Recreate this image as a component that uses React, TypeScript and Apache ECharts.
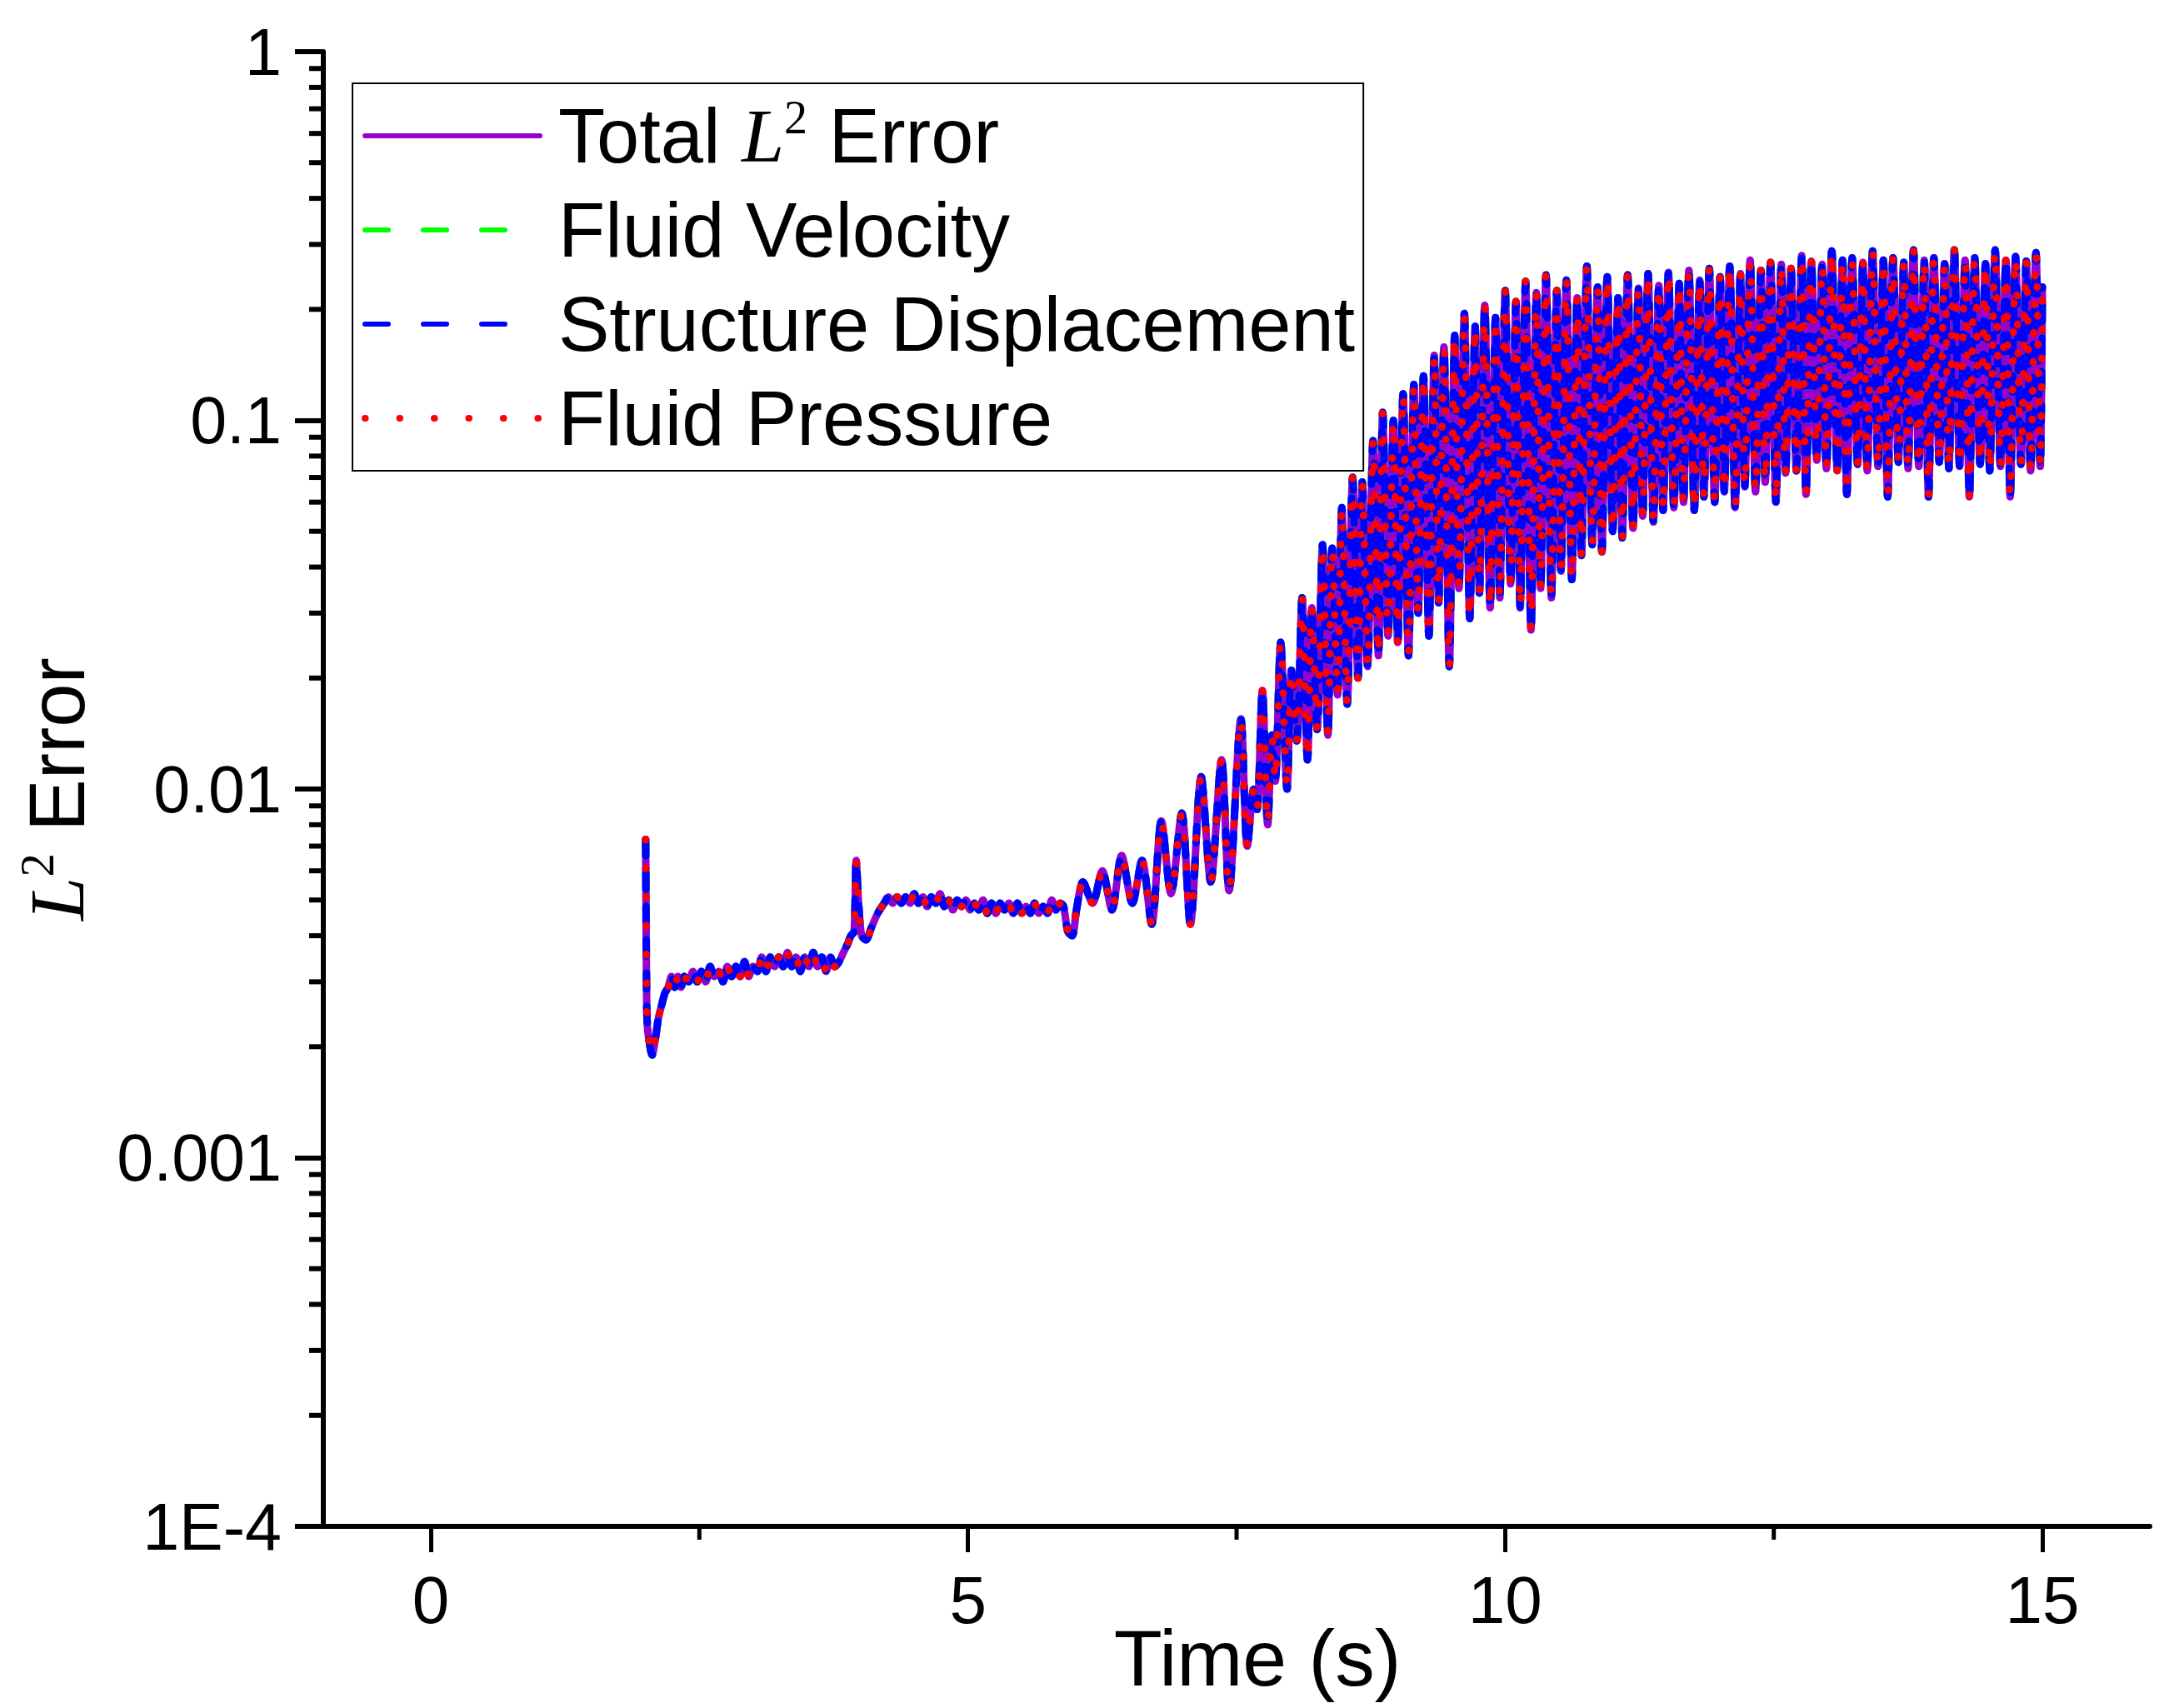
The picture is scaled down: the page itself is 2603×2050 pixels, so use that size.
import React, { useEffect, useRef } from 'react';
import * as echarts from 'echarts';

const seriesNames = ['Total L2 Error', 'Fluid Velocity', 'Structure Displacement', 'Fluid Pressure'];
const xMajorTicks = [0, 5, 10, 15];
const xMinorTicks = [2.5, 7.5, 12.5];
const yTickValues = [1e-4, 1e-3, 1e-2, 1e-1, 1];
const yTickLabels = ['1E-4', '0.001', '0.01', '0.1', '1'];
const yMinorTicks = [
  2e-4, 3e-4, 4e-4, 5e-4, 6e-4, 7e-4, 8e-4, 9e-4,
  2e-3, 3e-3, 4e-3, 5e-3, 6e-3, 7e-3, 8e-3, 9e-3,
  2e-2, 3e-2, 4e-2, 5e-2, 6e-2, 7e-2, 8e-2, 9e-2,
  0.2, 0.3, 0.4, 0.5, 0.6, 0.7, 0.8, 0.9,
];

const startupPhase = [
  [2.0, 0.0073], [2.004, 0.0048], [2.008, 0.003], [2.015, 0.0023], [2.03, 0.0021], [2.06, 0.0019],
  [2.09, 0.0021], [2.12, 0.0024], [2.15, 0.0026], [2.18, 0.0028], [2.21, 0.0029], [2.24, 0.0031],
  [2.27, 0.0029], [2.3, 0.0031], [2.33, 0.0029], [2.36, 0.0031], [2.4, 0.003], [2.44, 0.0032],
  [2.48, 0.003], [2.52, 0.0032], [2.56, 0.003], [2.6, 0.0033], [2.64, 0.0031], [2.68, 0.0032],
  [2.72, 0.003], [2.76, 0.0033], [2.8, 0.0031], [2.84, 0.0033], [2.88, 0.0031], [2.92, 0.0034],
  [2.96, 0.0031], [3.0, 0.0033], [3.04, 0.0032], [3.08, 0.0035], [3.12, 0.0032], [3.16, 0.0035],
  [3.2, 0.0033], [3.24, 0.0035], [3.28, 0.0033], [3.32, 0.0036], [3.36, 0.0033], [3.4, 0.0035],
  [3.44, 0.0032], [3.48, 0.0035], [3.52, 0.0033], [3.56, 0.0036], [3.6, 0.0033], [3.64, 0.0035],
  [3.68, 0.0032], [3.72, 0.0035], [3.76, 0.0033], [3.8, 0.0034], [3.84, 0.0036], [3.88, 0.0038],
  [3.91, 0.004], [3.94, 0.0041], [3.96, 0.0064], [3.98, 0.005], [4.01, 0.004], [4.05, 0.0039],
  [4.1, 0.0042], [4.16, 0.0046], [4.22, 0.0049], [4.26, 0.0051],
];

const plateauPhase = [
  [4.3, 0.0049], [4.34, 0.0051], [4.38, 0.0049], [4.42, 0.0051], [4.46, 0.0049], [4.5, 0.0052],
  [4.54, 0.0049], [4.58, 0.0051], [4.62, 0.0048], [4.66, 0.0051], [4.7, 0.0049], [4.74, 0.0052],
  [4.78, 0.0048], [4.82, 0.005], [4.86, 0.0047], [4.9, 0.005], [4.94, 0.0048], [4.98, 0.005],
  [5.02, 0.0047], [5.06, 0.0049], [5.1, 0.0047], [5.14, 0.005], [5.18, 0.0046], [5.22, 0.0049],
  [5.26, 0.0046], [5.3, 0.0049], [5.34, 0.0047], [5.38, 0.0049], [5.42, 0.0046], [5.46, 0.0049],
  [5.5, 0.0046], [5.54, 0.0048], [5.58, 0.0046], [5.62, 0.0049], [5.66, 0.0046], [5.7, 0.0048],
  [5.74, 0.0046], [5.78, 0.005], [5.82, 0.0047], [5.86, 0.0049], [5.89, 0.0048], [5.93, 0.0041],
  [5.97, 0.004], [6.01, 0.0047],
];

const onsetPhase = [
  [6.07, 0.0056], [6.16, 0.0049], [6.25, 0.006], [6.34, 0.0047], [6.43, 0.0066], [6.53, 0.0049],
  [6.62, 0.0064], [6.71, 0.0043], [6.8, 0.0082], [6.89, 0.0052], [6.99, 0.0086], [7.07, 0.0043],
  [7.17, 0.0108], [7.26, 0.0056], [7.36, 0.012], [7.43, 0.0053],
];

const growthPhase = [
  [7.54, 0.0155], [7.6, 0.007], [7.66, 0.01], [7.69, 0.0088], [7.74, 0.0185], [7.79, 0.008],
  [7.83, 0.014], [7.86, 0.0105], [7.91, 0.025], [7.97, 0.01], [8.01, 0.021], [8.06, 0.0135],
  [8.11, 0.033], [8.16, 0.012], [8.2, 0.031], [8.25, 0.0145], [8.3, 0.046], [8.35, 0.014],
  [8.39, 0.045], [8.44, 0.018], [8.48, 0.058], [8.53, 0.017], [8.58, 0.07], [8.63, 0.02],
  [8.67, 0.068], [8.72, 0.0215], [8.77, 0.088], [8.82, 0.023], [8.86, 0.105], [8.91, 0.026],
  [8.96, 0.1], [9.0, 0.025],
];

const saturationPhase = [
  [9.05, 0.118], [9.1, 0.023], [9.15, 0.125], [9.19, 0.03], [9.24, 0.132], [9.29, 0.026],
  [9.34, 0.15], [9.38, 0.032], [9.43, 0.158], [9.48, 0.0215], [9.53, 0.17], [9.57, 0.035],
  [9.62, 0.195], [9.67, 0.029], [9.72, 0.18], [9.76, 0.034], [9.81, 0.205], [9.86, 0.031],
  [9.91, 0.19], [9.95, 0.033], [10.0, 0.225], [10.05, 0.036], [10.1, 0.21], [10.14, 0.031],
  [10.19, 0.238], [10.24, 0.027], [10.29, 0.222], [10.33, 0.035], [10.38, 0.248], [10.43, 0.033],
  [10.48, 0.225], [10.52, 0.039], [10.57, 0.24], [10.62, 0.037], [10.67, 0.215], [10.71, 0.043],
  [10.76, 0.262], [10.81, 0.046], [10.86, 0.23], [10.9, 0.044], [10.95, 0.245], [11.0, 0.05],
  [11.05, 0.215], [11.09, 0.048], [11.14, 0.248], [11.19, 0.051], [11.24, 0.228], [11.28, 0.055],
  [11.33, 0.25], [11.38, 0.053], [11.43, 0.232], [11.47, 0.057], [11.52, 0.252], [11.57, 0.058],
  [11.62, 0.235], [11.66, 0.06], [11.71, 0.255], [11.76, 0.057], [11.81, 0.24], [11.85, 0.062],
  [11.9, 0.258], [11.95, 0.06], [12.0, 0.245], [12.04, 0.064], [12.09, 0.262], [12.14, 0.058],
  [12.19, 0.25], [12.23, 0.066], [12.28, 0.272], [12.33, 0.064], [12.38, 0.255], [12.42, 0.068],
  [12.47, 0.268], [12.52, 0.06], [12.57, 0.265], [12.61, 0.072], [12.66, 0.258], [12.71, 0.073],
  [12.76, 0.28], [12.8, 0.063], [12.85, 0.27], [12.9, 0.078], [12.95, 0.265], [12.99, 0.074],
  [13.04, 0.288], [13.09, 0.073], [13.14, 0.272], [13.18, 0.063], [13.23, 0.276], [13.28, 0.076],
  [13.33, 0.268], [13.37, 0.073], [13.42, 0.288], [13.47, 0.075], [13.52, 0.272], [13.56, 0.062],
  [13.61, 0.276], [13.66, 0.077], [13.71, 0.268], [13.75, 0.074], [13.8, 0.29], [13.85, 0.075],
  [13.9, 0.272], [13.94, 0.062], [13.99, 0.276], [14.04, 0.077], [14.09, 0.266], [14.13, 0.074],
  [14.18, 0.29], [14.23, 0.075], [14.28, 0.272], [14.32, 0.062], [14.37, 0.276], [14.42, 0.076],
  [14.47, 0.266], [14.51, 0.073], [14.56, 0.29], [14.61, 0.075], [14.66, 0.272], [14.7, 0.062],
  [14.75, 0.278], [14.8, 0.076], [14.85, 0.27], [14.89, 0.073], [14.94, 0.285], [14.98, 0.075],
  [15.0, 0.23],
];

const totalError = [...startupPhase, ...plateauPhase, ...onsetPhase, ...growthPhase, ...saturationPhase];
const fluidVelocity = totalError;
const structureDisplacement = totalError;
const fluidPressure = totalError;

const FONT = "'Liberation Sans', Arial, sans-serif";
const SERIF = "'Liberation Serif', 'Times New Roman', serif";

export default function App() {
  const ref = useRef<HTMLDivElement>(null);

  useEffect(() => {
    document.body.style.margin = '0';
    if (!ref.current) return;
    const chart = echarts.init(ref.current, null, { renderer: 'svg' });

    const seriesData = [totalError, fluidVelocity, structureDisplacement, fluidPressure];
    const colors = ['#9900CC', '#00FF00', '#0000FF', '#FF0000'];
    const dashes: any[] = ['solid', [20, 20], [20, 20], [0.5, 34]];
    const legendDashes: any[] = ['solid', [28, 42], [28, 42], [0.5, 41]];
    const legendWidths = [6, 6, 6, 8];

    const lineSeries = seriesNames.map((name, i) => ({
      name,
      type: 'line',
      data: seriesData[i],
      symbol: 'none',
      showSymbol: false,
      smooth: 0.3,
      z: 2 + i,
      lineStyle: { color: colors[i], width: 9, type: dashes[i], cap: 'round', join: 'round' },
      itemStyle: { color: colors[i] },
      emphasis: { disabled: true },
    }));

    const tickSeries = [
      {
        type: 'custom',
        silent: true,
        z: 10,
        data: yMinorTicks.map((v) => [-1, v]),
        encode: { x: 0, y: 1 },
        renderItem: (_p: any, api: any) => {
          const pt = api.coord([api.value(0), api.value(1)]);
          return {
            type: 'line',
            shape: { x1: pt[0] - 17, y1: pt[1], x2: pt[0], y2: pt[1] },
            style: { stroke: '#000', lineWidth: 6 },
          };
        },
      },
      {
        type: 'custom',
        silent: true,
        z: 10,
        data: xMinorTicks.map((t) => [t, 1e-4]),
        encode: { x: 0, y: 1 },
        renderItem: (_p: any, api: any) => {
          const pt = api.coord([api.value(0), api.value(1)]);
          return {
            type: 'line',
            shape: { x1: pt[0], y1: pt[1], x2: pt[0], y2: pt[1] + 16 },
            style: { stroke: '#000', lineWidth: 5 },
          };
        },
      },
    ];

    const richLegend = {
      a: { fontFamily: FONT, fontSize: 92, color: '#000', lineHeight: 100 },
      i: { fontFamily: SERIF, fontStyle: 'italic', fontSize: 92, color: '#000', lineHeight: 100 },
      s: { fontFamily: SERIF, fontSize: 56, color: '#000', lineHeight: 50, verticalAlign: 'top' },
    };

    chart.setOption({
      animation: false,
      backgroundColor: '#fff',
      grid: { left: 388, right: 23, top: 62, bottom: 218, containLabel: false, outerBoundsMode: 'none' },
      xAxis: {
        type: 'value',
        min: -1,
        max: 16,
        name: 'Time (s)',
        nameLocation: 'middle',
        nameGap: 110,
        nameMoveOverlap: false,
        nameTextStyle: { fontFamily: FONT, fontSize: 95, color: '#000', padding: [0, 0, 0, 50] },
        axisLine: { onZero: false, lineStyle: { color: '#000', width: 6 } },
        axisTick: { customValues: xMajorTicks, length: 31, lineStyle: { color: '#000', width: 5 } },
        axisLabel: { customValues: xMajorTicks, margin: 48, fontFamily: FONT, fontSize: 80, color: '#000' },
        splitLine: { show: false },
      },
      yAxis: {
        type: 'log',
        logBase: 10,
        min: 1e-4,
        max: 1,
        name: '{i|L}{s|2}{a| Error}',
        nameLocation: 'middle',
        nameGap: 268,
        nameMoveOverlap: false,
        nameTextStyle: {
          rich: {
            a: { fontFamily: FONT, fontSize: 94, color: '#000', lineHeight: 104 },
            i: { fontFamily: SERIF, fontStyle: 'italic', fontSize: 94, color: '#000', lineHeight: 104 },
            s: { fontFamily: SERIF, fontSize: 57, color: '#000', lineHeight: 52, verticalAlign: 'top' },
          },
        },
        axisLine: { onZero: false, lineStyle: { color: '#000', width: 6 } },
        axisTick: { customValues: yTickValues, length: 34, lineStyle: { color: '#000', width: 6 } },
        axisLabel: {
          customValues: yTickValues,
          margin: 50,
          fontFamily: FONT,
          fontSize: 79,
          color: '#000',
          formatter: (v: number) => {
            const idx = yTickValues.findIndex((t) => Math.abs(Math.log10(t) - Math.log10(v)) < 1e-6);
            return idx >= 0 ? yTickLabels[idx] : '';
          },
        },
        splitLine: { show: false },
        minorTick: { show: false },
      },
      legend: {
        orient: 'vertical',
        left: 423,
        top: 100,
        align: 'left',
        selectedMode: false,
        backgroundColor: '#fff',
        borderColor: '#000',
        borderWidth: 2,
        borderRadius: 0,
        padding: [13, 10, 13, 11],
        itemGap: 13,
        itemWidth: 210,
        itemHeight: 20,
        itemStyle: { opacity: 0 },
        textStyle: { fontFamily: FONT, fontSize: 92, color: '#000', lineHeight: 100, padding: [0, 0, 0, 17], rich: richLegend },
        formatter: (name: string) =>
          name === 'Total L2 Error' ? '{a|Total }{i|L}{s|2}{a| Error}' : `{a|${name}}`,
        data: seriesNames.map((name, i) => ({
          name,
          itemStyle: { opacity: 0 },
          lineStyle: { width: legendWidths[i], type: legendDashes[i], cap: 'round', color: colors[i] },
        })),
      },
      series: [...lineSeries, ...tickSeries],
    });

    return () => chart.dispose();
  }, []);

  return <div ref={ref} style={{ width: 2603, height: 2050 }} />;
}
